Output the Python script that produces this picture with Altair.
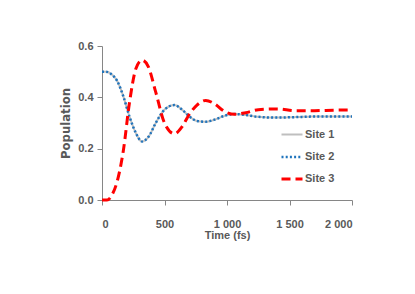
import altair as alt
import pandas as pd

times = [0, 40, 80, 120, 170, 220, 270, 320, 370, 430, 500, 580, 640, 700, 760, 830,
         900, 980, 1060, 1150, 1250, 1400, 1550, 1700, 1850, 2000]
site1 = [0.500, 0.499, 0.488, 0.465, 0.405, 0.325, 0.262, 0.228, 0.245, 0.300, 0.352,
         0.370, 0.352, 0.325, 0.308, 0.305, 0.313, 0.328, 0.335, 0.331, 0.324, 0.321,
         0.323, 0.325, 0.325, 0.325]
site2 = [0.500, 0.499, 0.488, 0.465, 0.405, 0.325, 0.262, 0.228, 0.245, 0.300, 0.352,
         0.370, 0.352, 0.325, 0.308, 0.305, 0.313, 0.328, 0.335, 0.331, 0.324, 0.321,
         0.323, 0.325, 0.325, 0.325]
site3 = [0.000, 0.000, 0.020, 0.070, 0.190, 0.380, 0.510, 0.545, 0.520, 0.420, 0.300,
         0.258, 0.285, 0.335, 0.370, 0.388, 0.375, 0.345, 0.334, 0.340, 0.352, 0.355,
         0.348, 0.348, 0.350, 0.351]
series = ["Site 1", "Site 2", "Site 3"]
colors = ["#BFBFBF", "#1F74BD", "#FF0000"]
dashes = [[1, 0], [2, 2.2], [9, 5]]
widths = [2, 3, 2.5]
y_ticks = [0.0, 0.2, 0.4, 0.6]
x_ticks = [0, 500, 1000, 1500, 2000]

rows = []
for name, vals in zip(series, [site1, site2, site3]):
    for t, v in zip(times, vals):
        rows.append({"t": t, "v": v, "s": name, "o": series.index(name)})
df = pd.DataFrame(rows)

font = "Liberation Sans, Arial, sans-serif"
tfont = "DejaVu Sans Condensed, DejaVu Sans, sans-serif"
gray = "#595959"

legend = alt.Legend(title=None, orient="none", legendX=178, legendY=77,
                    symbolType="stroke", symbolSize=441, labelFont=font,
                    labelFontSize=11, labelFontWeight="bold", labelColor=gray,
                    rowPadding=5, labelOffset=1)

chart = alt.Chart(df).mark_line(interpolate="monotone").encode(
    x=alt.X("t:Q", scale=alt.Scale(domain=[0, 2000], nice=False),
            axis=alt.Axis(values=x_ticks, title="Time (fs)", grid=False,
                          labelExpr="replace(format(datum.value, ',d'), ',', ' ')",
                          labelFont=font, labelFontSize=11, labelFontWeight="bold",
                          labelColor=gray, labelPadding=13, tickSize=5,
                          tickColor="#868686", domainColor="#868686",
                          titleFont=font, titleFontSize=11, titleFontWeight="bold",
                          titleColor=gray, titlePadding=0)),
    y=alt.Y("v:Q", scale=alt.Scale(domain=[0, 0.6], nice=False),
            axis=alt.Axis(values=y_ticks, format=".1f", title="Population", grid=False,
                          labelFont=font, labelFontSize=11, labelFontWeight="bold",
                          labelColor=gray, labelPadding=4, tickSize=5,
                          tickColor="#868686", domainColor="#868686",
                          titleFont=tfont, titleFontSize=13, titleFontWeight="bold",
                          titleColor=gray, titlePadding=5)),
    color=alt.Color("s:N", scale=alt.Scale(domain=series, range=colors), legend=legend),
    strokeDash=alt.StrokeDash("s:N", scale=alt.Scale(domain=series, range=dashes), legend=legend),
    strokeWidth=alt.StrokeWidth("s:N", scale=alt.Scale(domain=series, range=widths), legend=legend),
    order="o:Q",
).properties(
    width=250, height=154,
    autosize=alt.AutoSizeParams(type="none"),
    padding={"left": 94, "top": 38, "right": 50, "bottom": 70},
).configure_view(stroke=None)

chart.save("out.html", embed_options={"renderer": "svg", "actions": False})
